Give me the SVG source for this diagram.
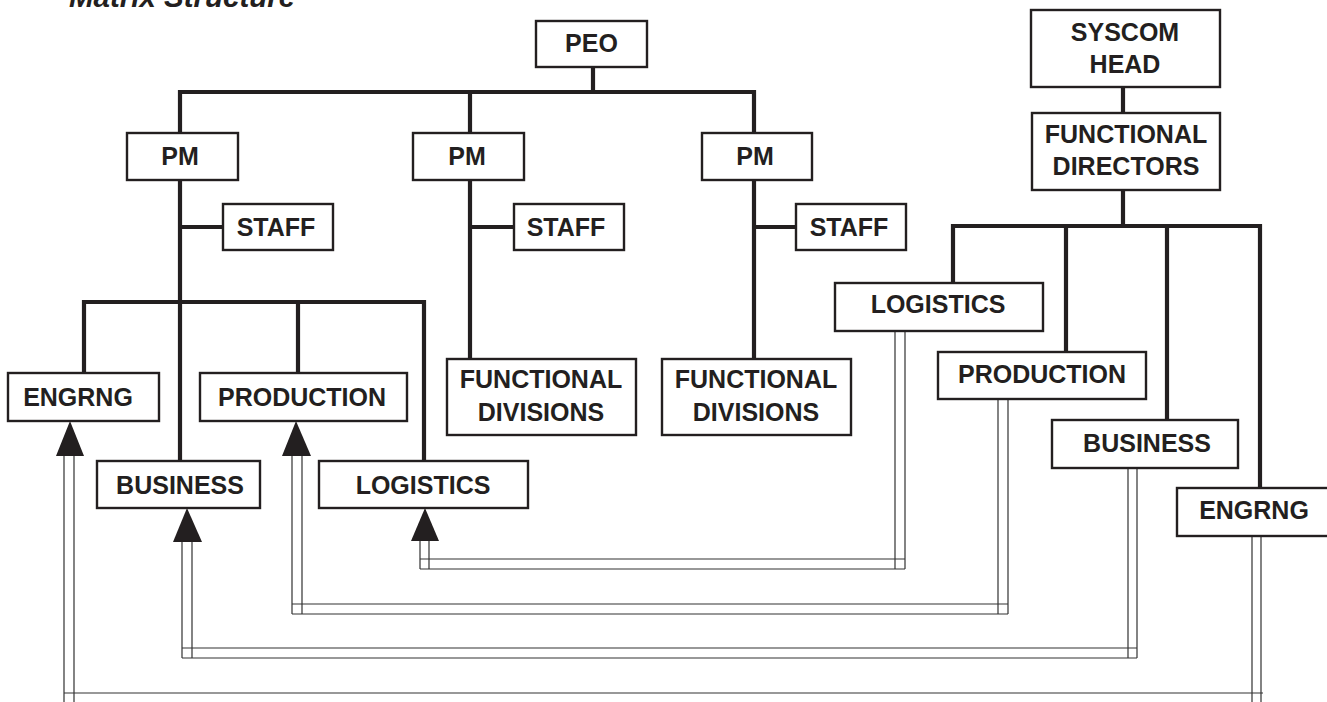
<svg xmlns="http://www.w3.org/2000/svg" width="1327" height="702" viewBox="0 0 1327 702">
<style>
.box{fill:#fff;stroke:#231f20;stroke-width:2.4}
.t{font-family:"Liberation Sans",Arial,sans-serif;font-weight:bold;font-size:25px;fill:#231f20;text-anchor:middle}
.title{font-family:"Liberation Sans",Arial,sans-serif;font-weight:bold;font-style:italic;font-size:29.5px;fill:#231f20}
.thick{stroke:#231f20;stroke-width:4.2;fill:none;stroke-linecap:square}
.pipe{stroke:#333;stroke-width:1.2;fill:none}
.arr{fill:#231f20}
</style>
<rect width="1327" height="702" fill="#fff"/>
<text class="title" x="69" y="7">Matrix Structure</text>

<g id="connectors">
  <path class="thick" d="M593 67V92M180 92H754M180 92V461M470 92V359M754 92V359M180 227H223M470 227H514M754 227H796"/>
  <path class="thick" d="M84 302H424M84 302V373M298 302V373M424 302V461"/>
  <path class="thick" d="M1123 87V113M1123 190V226M953 226H1260M953 226V283M1066 226V352M1167 226V420M1260 226V488"/>
  <path class="pipe" d="M420 541V569M429 541V569M420 559H905M420 569H905M895 331V569M905 331V569"/>
  <path class="pipe" d="M292 456V614M302 456V614M292 604H1008M292 614H1008M998 399V614M1008 399V614"/>
  <path class="pipe" d="M182 542V658M192 542V658M182 648H1137M182 658H1137M1128 468V658M1137 468V658"/>
  <path class="pipe" d="M64 456V702M74 456V702M64 693H1263M64 703H1263M1252 536V702M1261 536V702"/>
  <polygon class="arr" points="70,421 56,456 84,456"/>
  <polygon class="arr" points="296,421 282,456 311,456"/>
  <polygon class="arr" points="187,508 173,542 202,542"/>
  <polygon class="arr" points="425,508 411,541 439,541"/>
</g>

<g id="peo"><rect class="box" x="536" y="21" width="111" height="46"/><text class="t" x="591.5" y="52">PEO</text></g>

<g id="pm1"><rect class="box" x="127" y="133" width="111" height="47"/><text class="t" x="180" y="165">PM</text></g>
<g id="pm2"><rect class="box" x="413" y="133" width="111" height="47"/><text class="t" x="467" y="165">PM</text></g>
<g id="pm3"><rect class="box" x="702" y="133" width="110" height="47"/><text class="t" x="755" y="165">PM</text></g>

<g id="staff1"><rect class="box" x="223" y="204" width="110" height="46"/><text class="t" x="276" y="236">STAFF</text></g>
<g id="staff2"><rect class="box" x="514" y="204" width="110" height="46"/><text class="t" x="566" y="236">STAFF</text></g>
<g id="staff3"><rect class="box" x="796" y="204" width="110" height="46"/><text class="t" x="849" y="236">STAFF</text></g>

<g id="engrng-left"><rect class="box" x="8" y="373" width="151" height="48"/><text class="t" x="78" y="406">ENGRNG</text></g>
<g id="production-left"><rect class="box" x="200" y="373" width="207" height="48"/><text class="t" x="302" y="406">PRODUCTION</text></g>
<g id="business-left"><rect class="box" x="97" y="461" width="163" height="47"/><text class="t" x="180" y="494">BUSINESS</text></g>
<g id="logistics-left"><rect class="box" x="319" y="461" width="209" height="47"/><text class="t" x="423" y="494">LOGISTICS</text></g>

<g id="fd1"><rect class="box" x="447" y="359" width="189" height="76"/><text class="t" x="541" y="388">FUNCTIONAL</text><text class="t" x="541" y="421">DIVISIONS</text></g>
<g id="fd2"><rect class="box" x="662" y="359" width="189" height="76"/><text class="t" x="756" y="388">FUNCTIONAL</text><text class="t" x="756" y="421">DIVISIONS</text></g>

<g id="syscom"><rect class="box" x="1031" y="10" width="189" height="77"/><text class="t" x="1125" y="41">SYSCOM</text><text class="t" x="1125" y="73">HEAD</text></g>
<g id="fdir"><rect class="box" x="1032" y="113" width="188" height="77"/><text class="t" x="1126" y="143">FUNCTIONAL</text><text class="t" x="1126" y="175">DIRECTORS</text></g>

<g id="logistics-right"><rect class="box" x="835" y="283" width="208" height="48"/><text class="t" x="938" y="313">LOGISTICS</text></g>
<g id="production-right"><rect class="box" x="938" y="352" width="208" height="47"/><text class="t" x="1042" y="383">PRODUCTION</text></g>
<g id="business-right"><rect class="box" x="1052" y="420" width="186" height="48"/><text class="t" x="1147" y="452">BUSINESS</text></g>
<g id="engrng-right"><rect class="box" x="1177" y="488" width="152" height="48"/><text class="t" x="1254" y="519">ENGRNG</text></g>
</svg>
